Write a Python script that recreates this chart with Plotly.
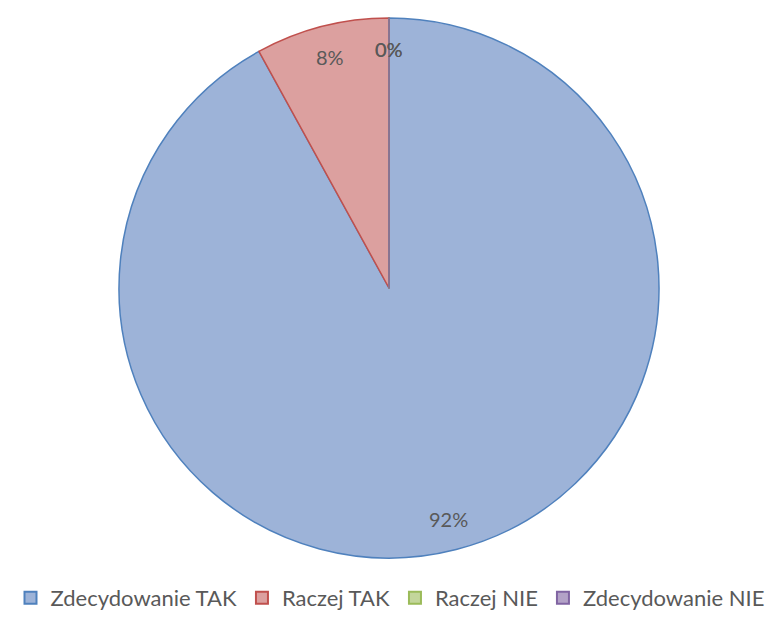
import math
import plotly.graph_objects as go

categories = ["Zdecydowanie TAK", "Raczej TAK", "Raczej NIE", "Zdecydowanie NIE"]
values = [92, 8, 0, 0]
fill_colors = ["#9DB3D8", "#DCA09F", "#C3D69B", "#B3A2C7"]
line_colors = ["#4F81BD", "#C0504D", "#9BBB59", "#8064A2"]

W, H = 777, 619
cx, cy, R = 389, 288, 270

fig = go.Figure(go.Pie(
    labels=categories,
    values=values,
    sort=False,
    direction="clockwise",
    rotation=0,
    marker=dict(colors=fill_colors, line=dict(color=line_colors, width=1.5)),
    textinfo="none",
    hoverinfo="label+percent",
    domain=dict(x=[(cx - R) / W, (cx + R) / W], y=[(H - cy - R) / H, (H - cy + R) / H]),
    showlegend=True,
))

# data labels placed at ~0.885 R along each slice's mid-angle
total = sum(values)
cum = 0
annotations = []
for v in values:
    mid = (cum + v / 2) / total
    cum += v
    ang = 2 * math.pi * mid
    r = 0.885 * R
    px = cx + r * math.sin(ang)
    py = cy - r * math.cos(ang)
    annotations.append(dict(
        x=px / W, y=1 - py / H, xref="paper", yref="paper",
        text=f"{round(v / total * 100)}%", showarrow=False,
        font=dict(family="Lato, Carlito, Calibri, sans-serif", size=20, color="#595959"),
        xanchor="center", yanchor="middle",
    ))

fig.update_layout(
    width=W, height=H,
    margin=dict(l=0, r=0, t=0, b=0, autoexpand=False),
    paper_bgcolor="white",
    plot_bgcolor="white",
    annotations=annotations,
    legend=dict(
        orientation="h",
        x=390 / W, xanchor="center",
        y=0, yanchor="bottom",
        font=dict(family="Lato, Carlito, Calibri, sans-serif", size=22, color="#595959"),
        itemsizing="constant",
        traceorder="normal",
    ),
)

fig.write_html("out.html", config={"displayModeBar": False},
               post_script="document.body.style.margin='0';")
